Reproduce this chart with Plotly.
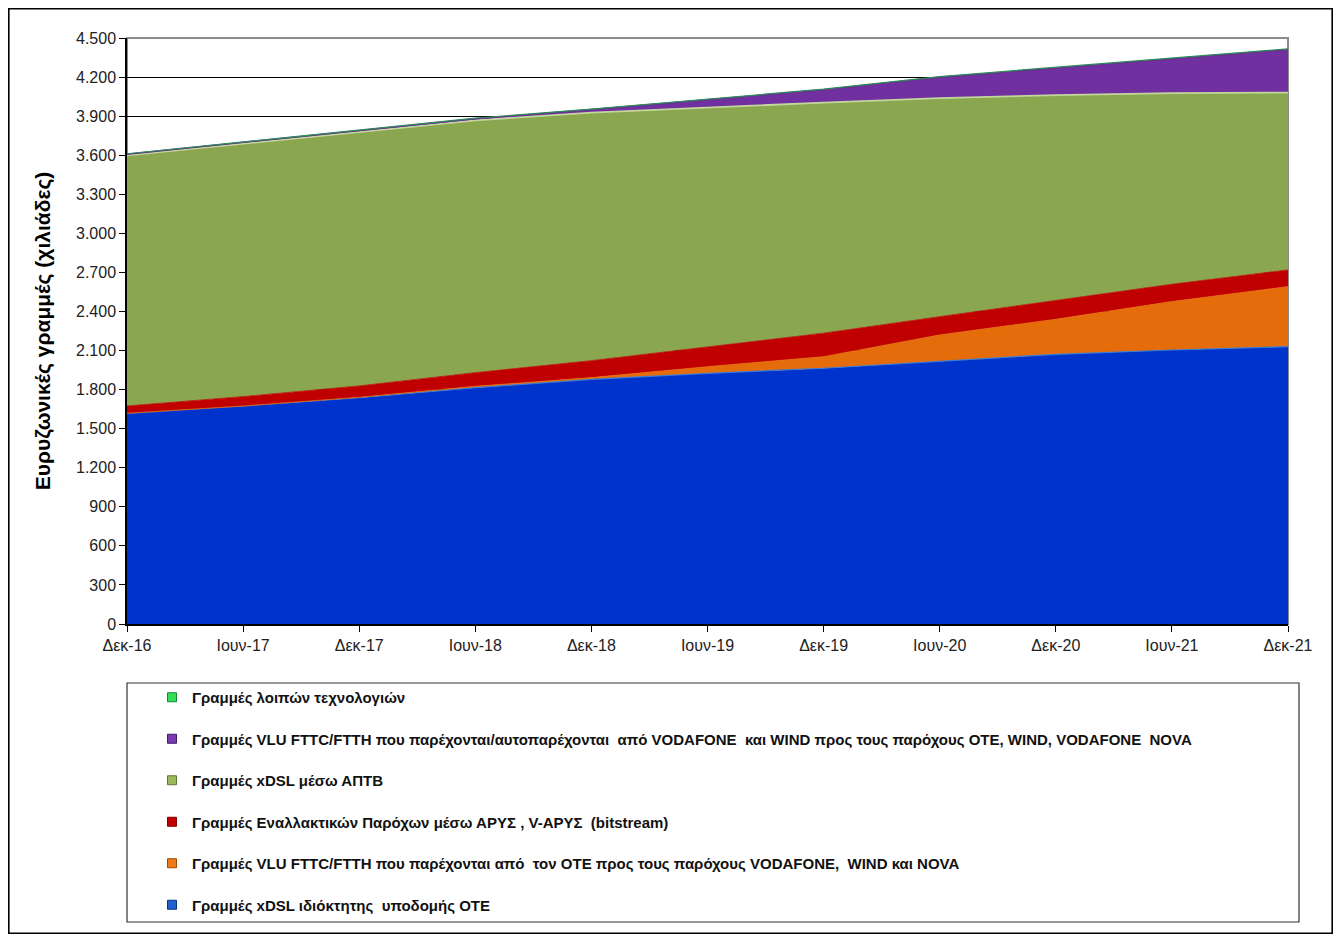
import plotly.graph_objects as go

# ---------------- data (thousands of lines) ----------------
periods = ["Δεκ-16", "Ιουν-17", "Δεκ-17", "Ιουν-18", "Δεκ-18", "Ιουν-19",
           "Δεκ-19", "Ιουν-20", "Δεκ-20", "Ιουν-21", "Δεκ-21"]

xdsl_ote = [1618, 1674, 1738, 1815, 1879, 1925, 1964, 2015, 2071, 2104, 2130]
vlu_ote = [0, 0, 3, 10, 13, 51, 89, 205, 269, 372, 461]
bitstream = [56, 72, 87, 105, 130, 154, 180, 140, 143, 133, 128]
xdsl_aptb = [1924, 1942, 1948, 1938, 1905, 1838, 1771, 1678, 1578, 1467, 1362]
vlu_alt = [10, 10, 10, 12, 23, 60, 98, 160, 208, 262, 328]
other_tech = [3, 3, 3, 4, 4, 5, 5, 6, 6, 7, 8]

names = [
    "Γραμμές xDSL ιδιόκτητης  υποδομής ΟΤΕ",
    "Γραμμές VLU FTTC/FTTH που παρέχονται από  τον ΟΤΕ προς τους παρόχους VODAFONE,  WIND και NOVA",
    "Γραμμές Εναλλακτικών Παρόχων μέσω ΑΡΥΣ , V-ΑΡΥΣ  (bitstream)",
    "Γραμμές xDSL μέσω ΑΠΤΒ",
    "Γραμμές VLU FTTC/FTTH που παρέχονται/αυτοπαρέχονται  από VODAFONE  και WIND προς τους παρόχους ΟΤΕ, WIND, VODAFONE  NOVA",
    "Γραμμές λοιπών τεχνολογιών",
]
series = [xdsl_ote, vlu_ote, bitstream, xdsl_aptb, vlu_alt, other_tech]

y_ticks = list(range(0, 4501, 300))

# ---------------- styling ----------------
fill_colors = ["#0033CC", "#E46C0A", "#C00000", "#8AA64E", "#7030A0", "#22B14C"]
line_colors = ["#3A7BD5", "#E46C0A", "#C00000", "#C3D69B", "#6A2C96", "#2E8B57"]
line_widths = [1.2, 0.8, 0.8, 1.8, 1.5, 1.2]
legend_colors = ["#1F5FD0", "#F07A1A", "#C00000", "#9BBB59", "#7A3AAE", "#33DD55"]
legend_borders = ["#103080", "#A04800", "#800000", "#5E7A2E", "#401870", "#118833"]

W, H = 1325, 926
ML, MR, MT, MB = 119, 45, 30, 310
PW, PH = W - ML - MR, H - MT - MB


def px_x(px):
    return (px - ML) / PW


def px_y(py):
    return (H - MB - py) / PH


narrow = "Liberation Sans Narrow, Arial Narrow, Arial, sans-serif"

fig = go.Figure()

for i, (nm, vals) in enumerate(zip(names, series)):
    fig.add_trace(go.Scatter(
        x=periods, y=vals, name=nm, mode="lines",
        stackgroup="one", fillcolor=fill_colors[i],
        line=dict(color=line_colors[i], width=line_widths[i]),
        showlegend=False, hoverinfo="x+y+name",
    ))

# legend entries with small square symbols (top of stack listed first)
for i in reversed(range(len(names))):
    fig.add_trace(go.Scatter(
        x=[None], y=[None], mode="markers", name=names[i],
        legendgroup="g%d" % i,
        marker=dict(symbol="square", size=9, color=legend_colors[i],
                    line=dict(color=legend_borders[i], width=1)),
    ))

fig.update_layout(
    width=W, height=H,
    margin=dict(l=ML, r=MR, t=MT, b=MB, autoexpand=False),
    paper_bgcolor="white", plot_bgcolor="white",
    separators=",.",
    font=dict(family=narrow, size=15, color="#222222"),
    showlegend=True,
    legend=dict(
        x=px_x(144), y=px_y(673), xanchor="left", yanchor="top",
        traceorder="grouped", tracegroupgap=19,
        font=dict(family=narrow, size=15, color="#111111", weight="bold"),
        bgcolor="rgba(0,0,0,0)", borderwidth=0, itemwidth=30,
    ),
    xaxis=dict(
        type="category", range=[0, len(periods) - 1],
        showline=True, linecolor="#000000", linewidth=1.5,
        ticks="outside", ticklen=6, tickcolor="#000000", tickwidth=1.2,
        showgrid=False, zeroline=False,
        tickfont=dict(family=narrow, size=16, color="#222222"),
        fixedrange=True,
    ),
    yaxis=dict(
        range=[0, 4500], tickvals=y_ticks, tickformat=",d",
        showline=True, linecolor="#000000", linewidth=1.5,
        ticks="outside", ticklen=6, tickcolor="#000000", tickwidth=1.2,
        showgrid=True, gridcolor="#000000", gridwidth=1.2, zeroline=False,
        tickfont=dict(family=narrow, size=16, color="#222222"),
        title=dict(text="Ευρυζωνικές γραμμές (χιλιάδες)", standoff=20,
                   font=dict(family="Liberation Sans, Arial, sans-serif",
                             size=21, color="#000000", weight="bold")),
        fixedrange=True,
    ),
    shapes=[
        # plot-area border (gray) over the top gridline
        dict(type="rect", xref="paper", yref="paper", x0=0, x1=1, y0=0, y1=1,
             line=dict(color="#8C8C8C", width=2), layer="between"),
        # legend box
        dict(type="rect", xref="paper", yref="paper",
             x0=px_x(119), x1=px_x(1291), y0=px_y(914), y1=px_y(675),
             line=dict(color="#333333", width=1.2)),
        # outer frame
        dict(type="rect", xref="paper", yref="paper",
             x0=px_x(0.8), x1=px_x(W - 0.8), y0=px_y(H - 0.8), y1=px_y(0.8),
             line=dict(color="#000000", width=1.6)),
    ],
)

fig.write_html("out.html")
